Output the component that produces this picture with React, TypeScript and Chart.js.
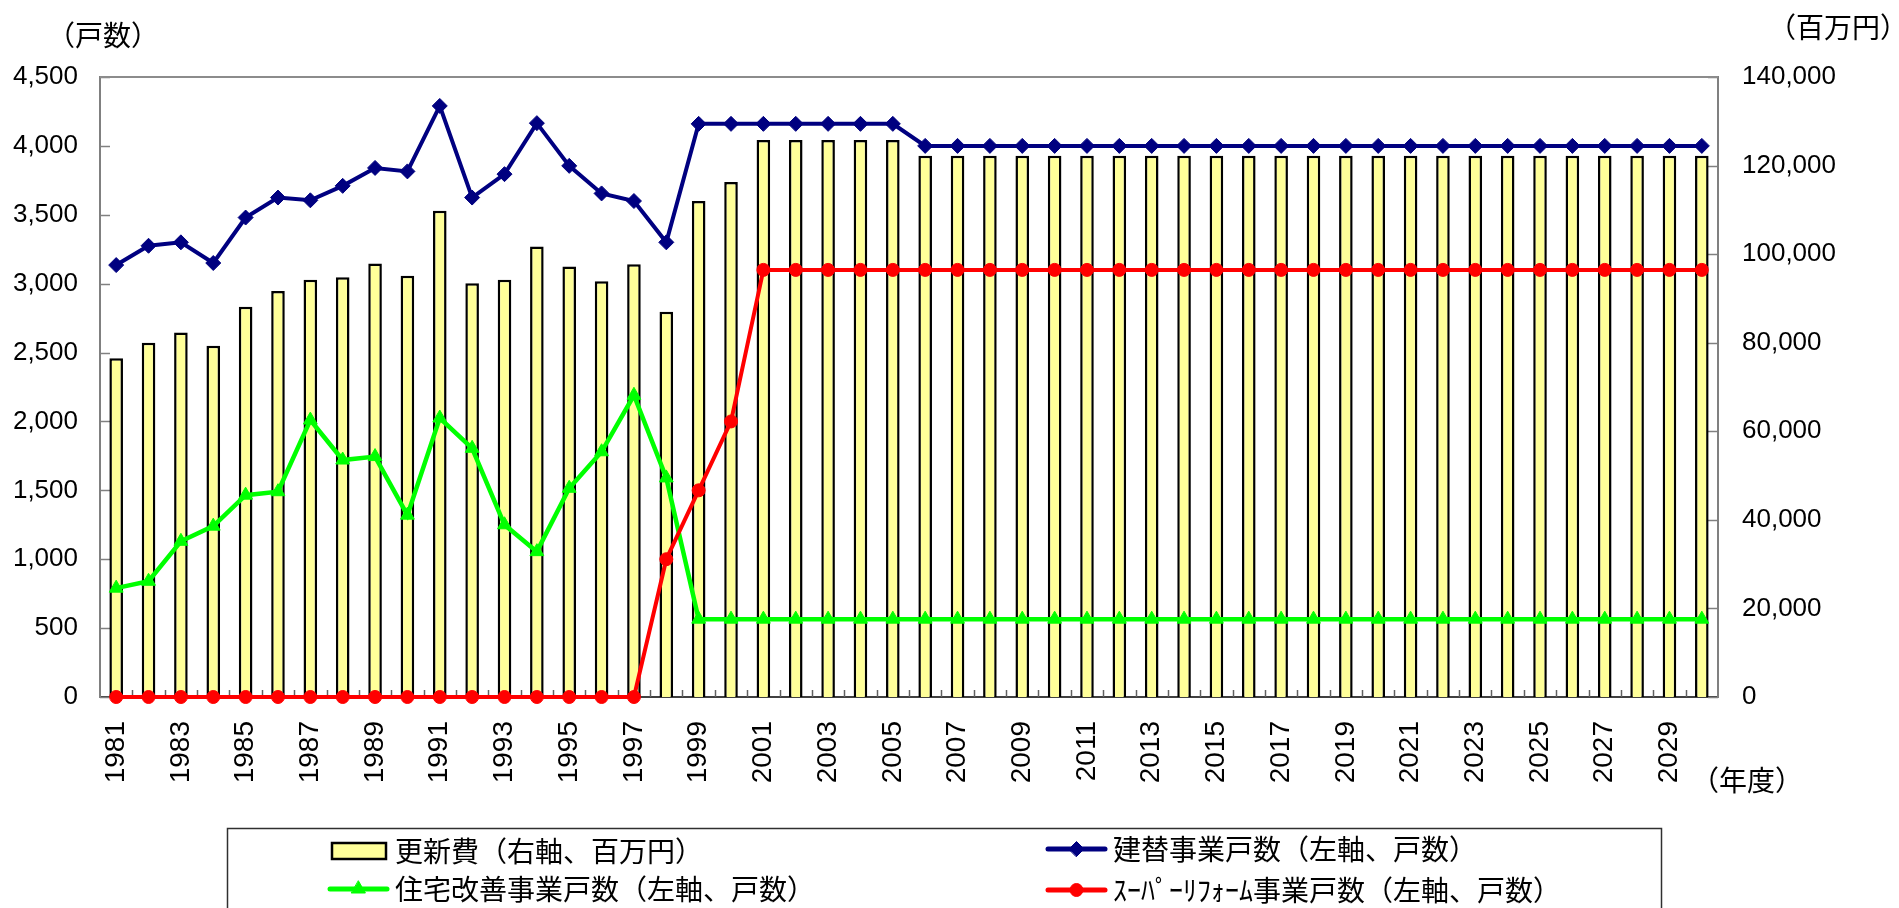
import React, { useEffect, useRef } from 'react';
import { Chart, registerables } from 'chart.js';
import { drawPoint } from 'chart.js/helpers';

Chart.register(...registerables);

const years = [
  '1981', '1982', '1983', '1984', '1985', '1986', '1987', '1988', '1989', '1990',
  '1991', '1992', '1993', '1994', '1995', '1996', '1997', '1998', '1999', '2000',
  '2001', '2002', '2003', '2004', '2005', '2006', '2007', '2008', '2009', '2010',
  '2011', '2012', '2013', '2014', '2015', '2016', '2017', '2018', '2019', '2020',
  '2021', '2022', '2023', '2024', '2025', '2026', '2027', '2028', '2029', '2030',
];

// 更新費（右軸、百万円）
const renewalCost = [
  76500, 80000, 82300, 79300, 88100, 91700, 94200, 94800, 97900, 95100,
  109800, 93400, 94200, 101700, 97200, 93900, 97700, 87000, 112000, 116300,
  125800, 125800, 125800, 125800, 125800, 122200, 122200, 122200, 122200, 122200,
  122200, 122200, 122200, 122200, 122200, 122200, 122200, 122200, 122200, 122200,
  122200, 122200, 122200, 122200, 122200, 122200, 122200, 122200, 122200, 122200,
];

// 建替事業戸数（左軸、戸数）
const rebuildUnits = [
  3135, 3275, 3300, 3150, 3480, 3625, 3605, 3710, 3840, 3815,
  4290, 3625, 3795, 4165, 3855, 3655, 3600, 3300, 4160, 4160,
  4160, 4160, 4160, 4160, 4160, 4000, 4000, 4000, 4000, 4000,
  4000, 4000, 4000, 4000, 4000, 4000, 4000, 4000, 4000, 4000,
  4000, 4000, 4000, 4000, 4000, 4000, 4000, 4000, 4000, 4000,
];

// 住宅改善事業戸数（左軸、戸数）
const improvementUnits = [
  790, 840, 1130, 1240, 1465, 1490, 2010, 1720, 1745, 1320,
  2025, 1805, 1250, 1055, 1515, 1780, 2190, 1590, 565, 565,
  565, 565, 565, 565, 565, 565, 565, 565, 565, 565,
  565, 565, 565, 565, 565, 565, 565, 565, 565, 565,
  565, 565, 565, 565, 565, 565, 565, 565, 565, 565,
];

// ｽｰﾊﾟｰﾘﾌｫｰﾑ事業戸数（左軸、戸数）
const superReformUnits = [
  0, 0, 0, 0, 0, 0, 0, 0, 0, 0,
  0, 0, 0, 0, 0, 0, 0, 1000, 1500, 2000,
  3100, 3100, 3100, 3100, 3100, 3100, 3100, 3100, 3100, 3100,
  3100, 3100, 3100, 3100, 3100, 3100, 3100, 3100, 3100, 3100,
  3100, 3100, 3100, 3100, 3100, 3100, 3100, 3100, 3100, 3100,
];

const seriesLabels = [
  '更新費（右軸、百万円）',
  '建替事業戸数（左軸、戸数）',
  '住宅改善事業戸数（左軸、戸数）',
  'ｽｰﾊﾟｰﾘﾌｫｰﾑ事業戸数（左軸、戸数）',
];

const leftAxisTitle = '（戸数）';
const rightAxisTitle = '（百万円）';
const xAxisTitle = '（年度）';

const leftMax = 4500;
const leftStep = 500;
const rightMax = 140000;
const rightStep = 20000;

const CJK = '"Noto Sans CJK JP", "Noto Sans CJK SC", sans-serif';

const framePlugin = {
  id: 'frame',
  beforeDatasetsDraw(chart: any) {
    const { ctx, chartArea, scales } = chart;
    ctx.save();
    ctx.strokeStyle = '#808080';
    ctx.lineWidth = 1.5;
    // inward ticks on left axis
    scales.y.ticks.forEach((_t: any, i: number) => {
      const py = Math.round(scales.y.getPixelForTick(i)) + 0.5;
      ctx.beginPath();
      ctx.moveTo(chartArea.left, py);
      ctx.lineTo(chartArea.left + 10, py);
      ctx.stroke();
    });
    scales.y2.ticks.forEach((_t: any, i: number) => {
      const py = Math.round(scales.y2.getPixelForTick(i)) + 0.5;
      ctx.beginPath();
      ctx.moveTo(chartArea.right, py);
      ctx.lineTo(chartArea.right - 10, py);
      ctx.stroke();
    });
    // category boundary ticks on x axis
    const xs = scales.x;
    const n = xs.getLabels().length;
    const w = (chartArea.right - chartArea.left) / n;
    ctx.strokeStyle = '#606060';
    for (let i = 1; i < n; i++) {
      const px = Math.round(xs.getPixelForValue(i) - w / 2) + 0.5;
      ctx.beginPath();
      ctx.moveTo(px, chartArea.bottom);
      ctx.lineTo(px, chartArea.bottom - 7);
      ctx.stroke();
    }
    // top border
    ctx.strokeStyle = '#8c8c8c';
    ctx.lineWidth = 2;
    ctx.beginPath();
    ctx.moveTo(chartArea.left, chartArea.top);
    ctx.lineTo(chartArea.right, chartArea.top);
    ctx.stroke();
    ctx.restore();
  },
  afterDraw(chart: any) {
    const { ctx } = chart;
    ctx.save();
    ctx.fillStyle = '#000';
    ctx.font = `28px ${CJK}`;
    ctx.textAlign = 'center';
    ctx.textBaseline = 'middle';
    ctx.fillText(leftAxisTitle, 103, 35);
    ctx.fillText(rightAxisTitle, 1838, 27);
    ctx.fillText(xAxisTitle, 1747, 780);

    // legend box
    ctx.strokeStyle = '#303030';
    ctx.lineWidth = 1.5;
    ctx.strokeRect(227.5, 828.5, 1434, 120);

    const slots = [
      { x: 330, y: 851, tx: 395 },
      { x: 1048, y: 849, tx: 1113 },
      { x: 330, y: 889, tx: 395 },
      { x: 1048, y: 890, tx: 1113 },
    ];
    chart.data.datasets.forEach((ds: any, i: number) => {
      const s = slots[i];
      if (ds.type === 'bar') {
        ctx.fillStyle = ds.backgroundColor;
        ctx.fillRect(s.x + 2, s.y - 8, 54, 16);
        ctx.strokeStyle = '#000';
        ctx.lineWidth = 2.5;
        ctx.strokeRect(s.x + 2, s.y - 8, 54, 16);
      } else {
        ctx.strokeStyle = ds.borderColor;
        ctx.lineWidth = 5;
        ctx.lineCap = 'round';
        ctx.beginPath();
        ctx.moveTo(s.x, s.y);
        ctx.lineTo(s.x + 57, s.y);
        ctx.stroke();
        ctx.fillStyle = ds.backgroundColor;
        ctx.strokeStyle = ds.borderColor;
        ctx.lineWidth = 1;
        drawPoint(ctx, { pointStyle: ds.pointStyle, radius: ds.pointRadius, borderWidth: 1, rotation: 0 }, s.x + 28.5, s.y);
      }
      ctx.fillStyle = '#000';
      ctx.font = `28px ${CJK}`;
      ctx.textAlign = 'left';
      ctx.textBaseline = 'middle';
      ctx.fillText(ds.label, s.tx, s.y);
    });
    ctx.restore();
  },
};

const fmt = (v: any) => Number(v).toLocaleString('en-US');

export default function App() {
  const ref = useRef<HTMLCanvasElement | null>(null);

  useEffect(() => {
    if (!ref.current) return;
    const chart = new Chart(ref.current, {
      type: 'bar',
      data: {
        labels: years,
        datasets: [
          {
            type: 'bar',
            label: seriesLabels[0],
            data: renewalCost,
            yAxisID: 'y2',
            backgroundColor: '#FFFF99',
            borderColor: '#000000',
            borderWidth: 2.5,
            barPercentage: 0.42,
            categoryPercentage: 1,
            order: 4,
          },
          {
            type: 'line',
            label: seriesLabels[1],
            data: rebuildUnits,
            yAxisID: 'y',
            borderColor: '#000080',
            backgroundColor: '#000080',
            borderWidth: 4,
            pointStyle: 'rectRot',
            pointRadius: 7.5,
            pointBorderWidth: 1,
            tension: 0,
            clip: false,
            order: 3,
          },
          {
            type: 'line',
            label: seriesLabels[2],
            data: improvementUnits,
            yAxisID: 'y',
            borderColor: '#00FF00',
            backgroundColor: '#00FF00',
            borderWidth: 4.5,
            pointStyle: 'triangle',
            pointRadius: 8,
            pointBorderWidth: 1,
            tension: 0,
            clip: false,
            order: 2,
          },
          {
            type: 'line',
            label: seriesLabels[3],
            data: superReformUnits,
            yAxisID: 'y',
            borderColor: '#FF0000',
            backgroundColor: '#FF0000',
            borderWidth: 4,
            pointStyle: 'circle',
            pointRadius: 6.5,
            pointBorderWidth: 1,
            tension: 0,
            clip: false,
            order: 1,
          },
        ] as any,
      },
      options: {
        responsive: false,
        animation: false,
        layout: { padding: { top: 77, left: 0, right: 0, bottom: 0 } },
        plugins: {
          legend: { display: false },
          tooltip: { enabled: false },
          title: { display: false },
        },
        scales: {
          x: {
            type: 'category',
            offset: true,
            grid: { display: false, drawTicks: false },
            border: { display: true, color: '#404040', width: 2 },
            ticks: {
              autoSkip: false,
              minRotation: 90,
              maxRotation: 90,
              padding: 24,
              color: '#000',
              font: { family: '"Liberation Sans Narrow", "Liberation Sans", sans-serif', size: 28 },
              callback: (_v: any, i: number) => (i % 2 === 0 ? years[i] : ''),
            },
            afterFit: (s: any) => { s.height = 211; },
          },
          y: {
            position: 'left',
            min: 0,
            max: leftMax,
            grid: { display: false, drawTicks: false },
            border: { display: true, color: '#808080', width: 2 },
            ticks: {
              stepSize: leftStep,
              padding: 22,
              color: '#000',
              font: { family: '"Liberation Sans", Arial, sans-serif', size: 26 },
              callback: fmt,
            },
            afterFit: (s: any) => { s.width = 100; },
          },
          y2: {
            position: 'right',
            min: 0,
            max: rightMax,
            grid: { display: false, drawTicks: false },
            border: { display: true, color: '#808080', width: 2 },
            ticks: {
              stepSize: rightStep,
              padding: 24,
              color: '#000',
              font: { family: '"Liberation Sans", Arial, sans-serif', size: 26 },
              callback: fmt,
            },
            afterFit: (s: any) => { s.width = 181; },
          },
        },
      } as any,
      plugins: [framePlugin],
    });
    return () => chart.destroy();
  }, []);

  return (
    <div style={{ position: 'fixed', left: 0, top: 0, width: 1899, height: 908, background: '#fff' }}>
      <canvas ref={ref} width={1899} height={908} style={{ display: 'block' }} />
    </div>
  );
}
